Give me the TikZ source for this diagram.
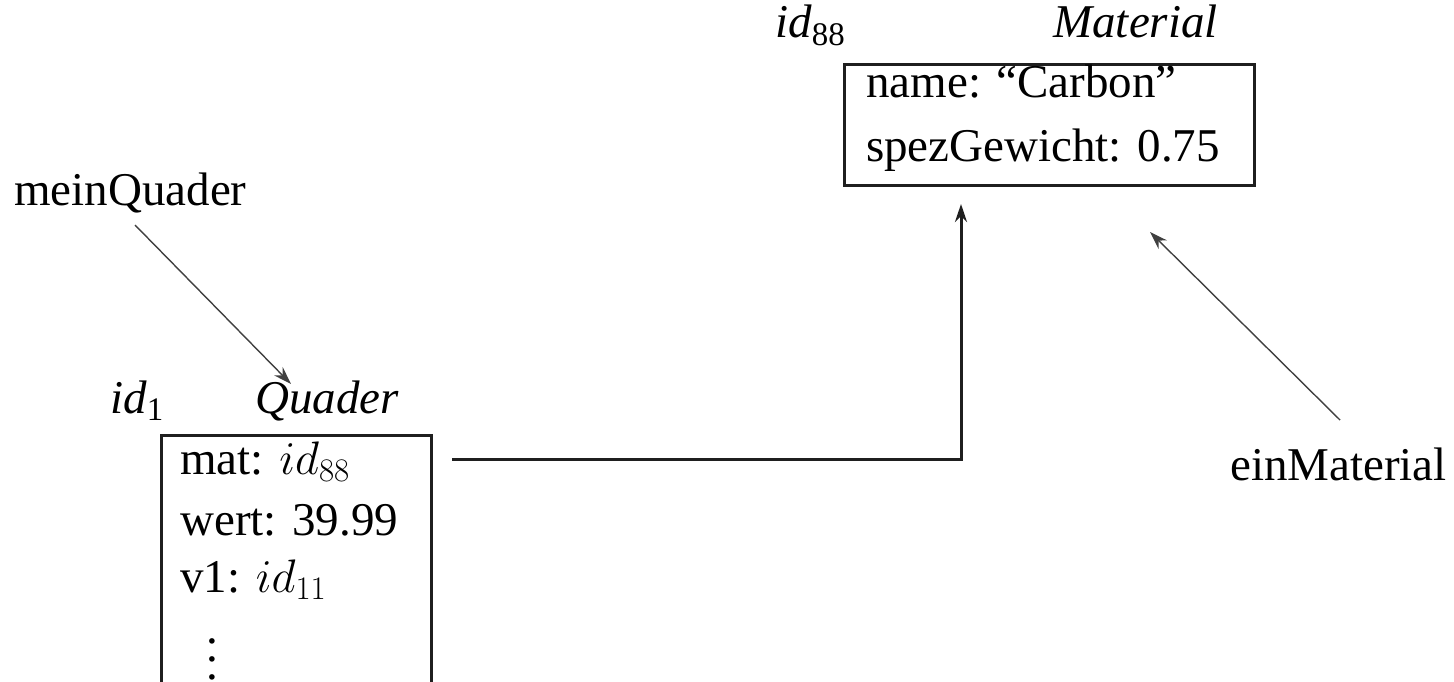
\RequirePackage{fix-cm}
\documentclass[tikz,border=0pt]{standalone}
\usepackage{fontspec}
\setmainfont{Liberation Serif}
\usetikzlibrary{arrows.meta}
\newcommand{\bigvdots}{\vbox{\baselineskip=18pt\lineskiplimit=0pt\hbox{.}\hbox{.}\hbox{.}}}
\begin{document}
\begin{tikzpicture}[x=1pt,y=-1pt,
  txt/.style={anchor=base west,inner sep=0pt,font=\fontsize{47}{56}\selectfont},
  objbox/.style={draw=black!88,line width=3pt,inner sep=0pt},
  thinarrow/.style={draw=black!75,line width=1.4pt,-{Stealth[length=18pt,width=12pt]}},
  thickarrow/.style={draw=black!88,line width=3pt,-{Stealth[length=18pt,width=12pt]}}]
\useasboundingbox (0,0) rectangle (1454,682);
% Material object
\node[objbox,minimum width=410pt,minimum height=121pt,anchor=north west] (matbox) at (843,63) {};
\node[txt] (mid) at (775,38) {\textit{id}\textsubscript{88}};
\node[txt,anchor=base east] (mcls) at (1218,38) {\textit{Material}};
\node[txt] (mname) at (866,98) {name: ``Carbon''};
\node[txt] (mspez) at (866,161) {spezGewicht: 0.75};
% Quader object
\node[objbox,minimum width=270pt,minimum height=300pt,anchor=north west] (qbox) at (160,434) {};
\node[txt] (qid) at (110,413) {\textit{id}\textsubscript{1}};
\node[txt] (qcls) at (255,413) {\textit{Quader}};
\node[txt] (qmat) at (180,474) {mat: $id_{88}$};
\node[txt] (qwert) at (180,535) {wert: 39.99};
\node[txt] (qv1) at (180,592) {v1: $id_{11}$};
\node[txt,anchor=north west] (qdots) at (206,638) {\bigvdots};
% variables
\node[txt] (mein) at (14,205) {meinQuader};
\node[txt] (ein) at (1230,480) {einMaterial};
% connectors
\coordinate (c1) at (452,459);
\coordinate (c2) at (961,459);
\coordinate (c3) at (961,204);
\draw[thickarrow] (c1) -- (c2) -- (c3);
\coordinate (a1) at (135,225);
\coordinate (a2) at (291,384);
\draw[thinarrow] (a1) -- (a2);
\coordinate (b1) at (1340,420);
\coordinate (b2) at (1150,232);
\draw[thinarrow] (b1) -- (b2);
\end{tikzpicture}
\end{document}
